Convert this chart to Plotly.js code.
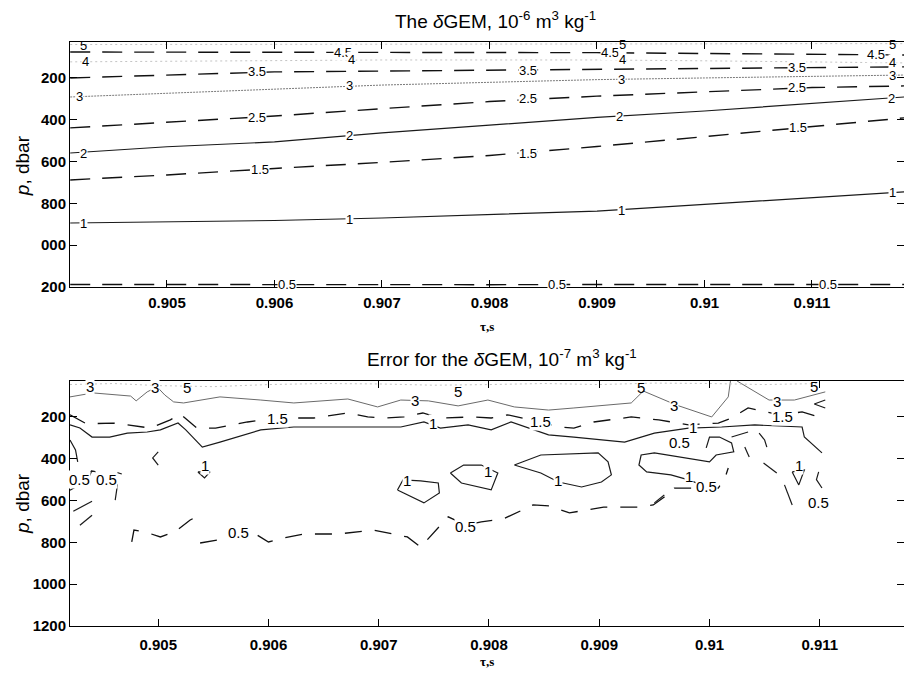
<!DOCTYPE html>
<html><head><meta charset="utf-8">
<script src="https://cdn.plot.ly/plotly-3.0.1.min.js"></script>
<style>html,body{margin:0;padding:0;background:#fff}</style>
</head><body><div id="chart" style="width:904px;height:673px"></div>
<script>
// ---------- axes ----------
const xTicks = [0.905,0.906,0.907,0.908,0.909,0.910,0.911];
const xTickText = ['0.905','0.906','0.907','0.908','0.909','0.91','0.911'];
const pTicks = [200,400,600,800,1000,1200];
const pTickTextTop = ['200','400','600','800','000','200'];
const pTickTextBottom = ['200','400','600','800','1000','1200'];

// ---------- top panel: δGEM contour lines (10^-6 m3 kg-1) ----------
const tauTop = [0.90410,0.905,0.906,0.907,0.908,0.909,0.910,0.911,0.91186];
const pTop05 = [1188,1189,1188,1189,1189,1188,1189,1188,1188];
const pTop10 = [894,890,882,870,855,837,805,772,745];
const pTop15 = [688,664,633,604,571,528,481,433,391];
const pTop20 = [559,529,506,463,426,389,358,321,291];
const pTop25 = [439,413,382,347,313,287,266,246,238];
const pTop30 = [291,273,253,234,221,208,200,192,186];
const pTop35 = [200,185,171,167,163,159,155,152,147];
const pTop40 = [123,120,116,114,114,114,118,124,128];
const pTop45 = [76,76,76,76,77,79,83,88,90];
const pTop50 = [40,40,39,39,38,38,37,36,36];

const lblTopX = [0.90422,0.90924,0.91175, 0.90664,0.90912,0.91160, 0.90424,0.90672,0.90924,0.91175,
  0.90584,0.90836,0.91086, 0.90419,0.90670,0.90923,0.91175, 0.90584,0.90836,0.91086,
  0.90422,0.90670,0.90921,0.91174, 0.90587,0.90836,0.91087, 0.90422,0.90670,0.90923,0.91175,
  0.90612,0.90863,0.91115];
const lblTopP = [45,42,40, 76,80,90, 123,114,114,128,
  171,162,152, 291,238,205,186, 387,300,248,
  559,473,382,296, 640,559,439, 894,875,832,750,
  1190,1190,1190];
const lblTopT = ['5','5','5','4.5','4.5','4.5','4','4','4','4',
  '3.5','3.5','3.5','3','3','3','3','2.5','2.5','2.5',
  '2','2','2','2','1.5','1.5','1.5','1','1','1','1',
  '0.5','0.5','0.5'];

// ---------- bottom panel: error for δGEM (10^-7 m3 kg-1) ----------
const tauB3 = [0.90420,0.90441,0.90475,0.90480,0.90490,0.90499,0.90506,0.90514,0.90523,0.90556,0.90593,0.90623,0.90672,0.90699,0.90720,0.90745,0.90772,0.90799,0.90823,0.90854,0.90877,0.90908,0.90929,0.90940,0.90970,0.91002,0.91017,0.91019,null,0.91025,0.91054,0.91077,0.91105];
const pB3 = [104,85,100,123,80,56,95,128,133,104,119,133,114,152,119,123,147,119,152,167,157,143,133,76,143,200,104,28,null,28,119,119,80];

const tauB5 = [0.9042,0.9046,0.9050,0.9055,0.9060,0.9065,0.9070,0.9075,0.9080,0.9085,0.9090,0.9095,0.9100,0.9105,0.9110];
const pB5 = [45,40,50,55,45,40,42,48,45,40,45,38,40,45,40];

const tauB15 = [0.90420,0.90435,0.90459,0.90493,0.90511,0.90520,0.90535,0.90552,0.90581,0.90608,0.90641,0.90672,0.90690,0.90705,0.90723,0.90740,0.90756,0.90784,0.90802,0.90817,0.90847,0.90863,0.90877,0.90895,0.90929,0.90954,0.90981,0.91008,0.91020,0.91035,0.91064,0.91084,0.91102];
const pB15 = [190,233,229,253,214,186,253,253,224,205,205,181,200,205,200,181,205,200,205,190,224,248,253,224,200,214,238,229,205,157,190,176,205];

const tauB1 = [0.90420,0.90429,0.90440,0.90456,0.90472,0.90490,0.90502,0.90518,0.90525,0.90540,0.90556,0.90572,0.90593,0.90623,0.90672,0.90720,0.90741,0.90756,0.90781,0.90802,0.90820,0.90854,0.90877,0.90923,0.90950,0.90981,0.91011,0.91041,0.91084,0.91086,0.91102,null,
  0.90717,0.90722,0.90738,0.90754,0.90755,0.90741,0.90717,null,
  0.90765,0.90777,0.90793,0.90808,0.90802,0.90775,0.90765,null,
  0.90823,0.90847,0.90899,0.90908,0.90911,0.90902,0.90884,0.90863,0.90847,0.90823,null,
  0.90997,0.91000,0.91009,0.91020,0.91022,0.91006,0.91000,0.90977,0.90950,0.90938,0.90936,0.90943,0.90965,0.90981,0.90993,0.91002,null,
  0.91075,0.91086,0.91081,0.91075,null,
  0.90536,0.90547,0.90542,0.90536];
const pB1 = [238,253,296,296,277,272,262,229,262,344,320,296,262,248,248,248,224,253,238,262,224,286,296,320,277,253,248,238,248,296,372,null,
  549,501,506,516,564,611,549,null,
  468,430,430,468,549,516,468,null,
  430,382,372,415,477,511,535,511,468,430,null,
  348,296,296,324,367,382,415,396,372,382,430,463,477,501,525,535,null,
  463,454,525,463,null,
  463,463,492,463];

const tauB05 = [0.90476,0.90478,0.90488,0.90502,0.90515,0.90529,0.90538,null,
  0.90538,0.90554,0.90573,0.90585,0.90600,0.90614,0.90632,0.90663,0.90695,0.90726,0.90738,0.90750,0.90763,0.90779,0.90793,0.90813,0.90840,0.90855,0.90873,0.90904,0.90936,0.90949,0.90959,0.90968,0.90997,0.91008,0.91014,0.91017];
const pB05 = [798,741,750,774,750,693,669,null,
  803,789,755,750,798,779,760,760,741,774,822,755,678,717,702,688,621,626,659,631,631,621,583,540,540,540,492,444];

// short fragments of contours
const tauBFrag = [0.90420,0.90425,0.90427,null, 0.90429,0.90441,0.90456,0.90463,0.90461,null,
  0.90420,0.90436,0.90440,null, 0.90423,0.90440,null, 0.90429,0.90440,null,
  0.90452,0.90461,0.90467,null, 0.90500,0.90495,0.90500,null,
  0.91020,0.91035,null, 0.91032,0.91036,null, 0.91045,0.91050,0.91052,null,
  0.91049,0.91061,null, 0.91068,0.91075,null, 0.91099,0.91097,0.91102,null,
  0.90950,0.90959,null, 0.91105,0.91095,0.91105];
const pBFrag = [310,358,415,null, 469,459,478,526,598,null,
  550,502,455,null, 651,603,null, 718,670,null,
  482,463,473,null, 367,396,430,null,
  296,272,null, 344,391,null, 277,310,344,null,
  420,468,null, 525,621,null, 463,500,540,null,
  611,573,null, 119,138,157];

const lblBX = [0.90438,0.90497,0.90733,0.90968,0.91061,
  0.90526,0.90772,0.90938,0.91095,
  0.90608,0.90847,0.91066,
  0.90749,0.90985,0.90726,0.90799,0.90863,0.90981,0.91081,0.90542,
  0.90429,0.90453,0.90573,0.90779,0.90997,0.90973,0.91099];
const lblBP = [52,58,119,143,125,
  61,80,61,56,
  205,224,198,
  229,248,506,463,506,487,430,430,
  501,501,755,726,535,320,607];
const lblBT = ['3','3','3','3','3','5','5','5','5','1.5','1.5','1.5',
  '1','1','1','1','1','1','1','1',
  '0.5','0.5','0.5','0.5','0.5','0.5','0.5'];

// ---------- build ----------
const SOLID = {color:'#1a1a1a', width:1.2};
const DASH_T = {color:'#111', width:1.4, dash:'20px,12px'};
const DASH_B = {color:'#111', width:1.3, dash:'17px,13px'};
const GREY = {color:'#7a7a7a', width:1, dash:'2px,1px'};
const FAINT = {color:'#c4c4c4', width:1, dash:'2px,3px'};
const GREYSOLID = {color:'#6a6a6a', width:1};

function ln(x, y, line, ax){
  return {type:'scatter', mode:'lines', x:x, y:y, line:line, connectgaps:false,
    xaxis: ax ? 'x2':'x', yaxis: ax ? 'y2':'y', hoverinfo:'skip', showlegend:false};
}
const traces = [
  ln(tauTop,pTop05,DASH_T,0), ln(tauTop,pTop10,SOLID,0), ln(tauTop,pTop15,DASH_T,0),
  ln(tauTop,pTop20,SOLID,0), ln(tauTop,pTop25,DASH_T,0), ln(tauTop,pTop30,GREY,0),
  ln(tauTop,pTop35,DASH_T,0), ln(tauTop,pTop40,FAINT,0), ln(tauTop,pTop45,DASH_T,0),
  ln(tauTop,pTop50,FAINT,0),
  ln(tauB3,pB3,GREYSOLID,1), ln(tauB5,pB5,FAINT,1), ln(tauB15,pB15,DASH_B,1),
  ln(tauB1,pB1,SOLID,1), ln(tauB05,pB05,DASH_B,1), ln(tauBFrag,pBFrag,SOLID,1)
];

const FONT = 'Liberation Sans, Arial, Helvetica, sans-serif';
const annotations = [];
lblTopX.forEach((x,i)=>{
  annotations.push({x:x, y:lblTopP[i], xref:'x', yref:'y', text:lblTopT[i], showarrow:false,
    font:{family:FONT, size:13, color:'#000'}, bgcolor: lblTopT[i]==='5' ? 'rgba(0,0,0,0)' : '#fff', borderpad:0});
});
lblBX.forEach((x,i)=>{
  annotations.push({x:x, y:lblBP[i], xref:'x2', yref:'y2', text:lblBT[i], showarrow:false,
    font:{family:FONT, size:15, color:'#000'}, bgcolor: lblBT[i]==='5' ? 'rgba(0,0,0,0)' : '#fff', borderpad:0});
});
// titles
annotations.push({xref:'paper', yref:'paper', x:0.510, y:1.0377, yanchor:'middle', showarrow:false,
  text:'The <i>δ</i>GEM, 10<sup>-6</sup> m<sup>3</sup> kg<sup>-1</sup>', font:{family:FONT, size:19, color:'#000'}});
annotations.push({xref:'paper', yref:'paper', x:0.518, y:0.4589, yanchor:'middle', showarrow:false,
  text:'Error for the <i>δ</i>GEM, 10<sup>-7</sup> m<sup>3</sup> kg<sup>-1</sup>', font:{family:FONT, size:19, color:'#000'}});
// x titles
annotations.push({xref:'paper', yref:'paper', x:0.5, y:0.512, yanchor:'middle', showarrow:false,
  text:'<b>τ,s</b>', font:{family:'Liberation Serif, Times New Roman, serif', size:13, color:'#000'}});
annotations.push({xref:'paper', yref:'paper', x:0.5, y:-0.0616, yanchor:'middle', showarrow:false,
  text:'<b>τ,s</b>', font:{family:'Liberation Serif, Times New Roman, serif', size:13, color:'#000'}});
// y titles
annotations.push({xref:'paper', yref:'paper', x:-0.0576, y:0.789, xanchor:'center', yanchor:'middle', textangle:-90, showarrow:false,
  text:'<i>p</i>, dbar', font:{family:FONT, size:19, color:'#000'}});
annotations.push({xref:'paper', yref:'paper', x:-0.0576, y:0.2106, xanchor:'center', yanchor:'middle', textangle:-90, showarrow:false,
  text:'<i>p</i>, dbar', font:{family:FONT, size:19, color:'#000'}});

const axCommon = {showgrid:false, zeroline:false, showline:true, linecolor:'#000', linewidth:1,
  mirror:'ticks', ticks:'inside', ticklen:7, tickcolor:'#000',
  tickfont:{family:FONT, size:15, color:'#000', weight:'bold'}};
const layout = {
  width:904, height:673, margin:{l:70, r:0, t:42, b:47},
  paper_bgcolor:'#fff', plot_bgcolor:'#fff', showlegend:false,
  xaxis: Object.assign({}, axCommon, {domain:[0,1], anchor:'y', range:[0.904098,0.911856],
    tickvals:xTicks, ticktext:xTickText, ticklabelstandoff:2}),
  yaxis: Object.assign({}, axCommon, {domain:[0.5805,1], anchor:'x', range:[1200,28],
    tickvals:pTicks, ticktext:pTickTextTop}),
  xaxis2: Object.assign({}, axCommon, {domain:[0,1], anchor:'y2', range:[0.904200,0.911764],
    tickvals:xTicks, ticktext:xTickText, ticklabelstandoff:5}),
  yaxis2: Object.assign({}, axCommon, {domain:[0,0.4195], anchor:'x2', range:[1200,28],
    tickvals:pTicks, ticktext:pTickTextBottom}),
  annotations: annotations
};
Plotly.newPlot('chart', traces, layout, {displayModeBar:false, staticPlot:true});
</script></body></html>
